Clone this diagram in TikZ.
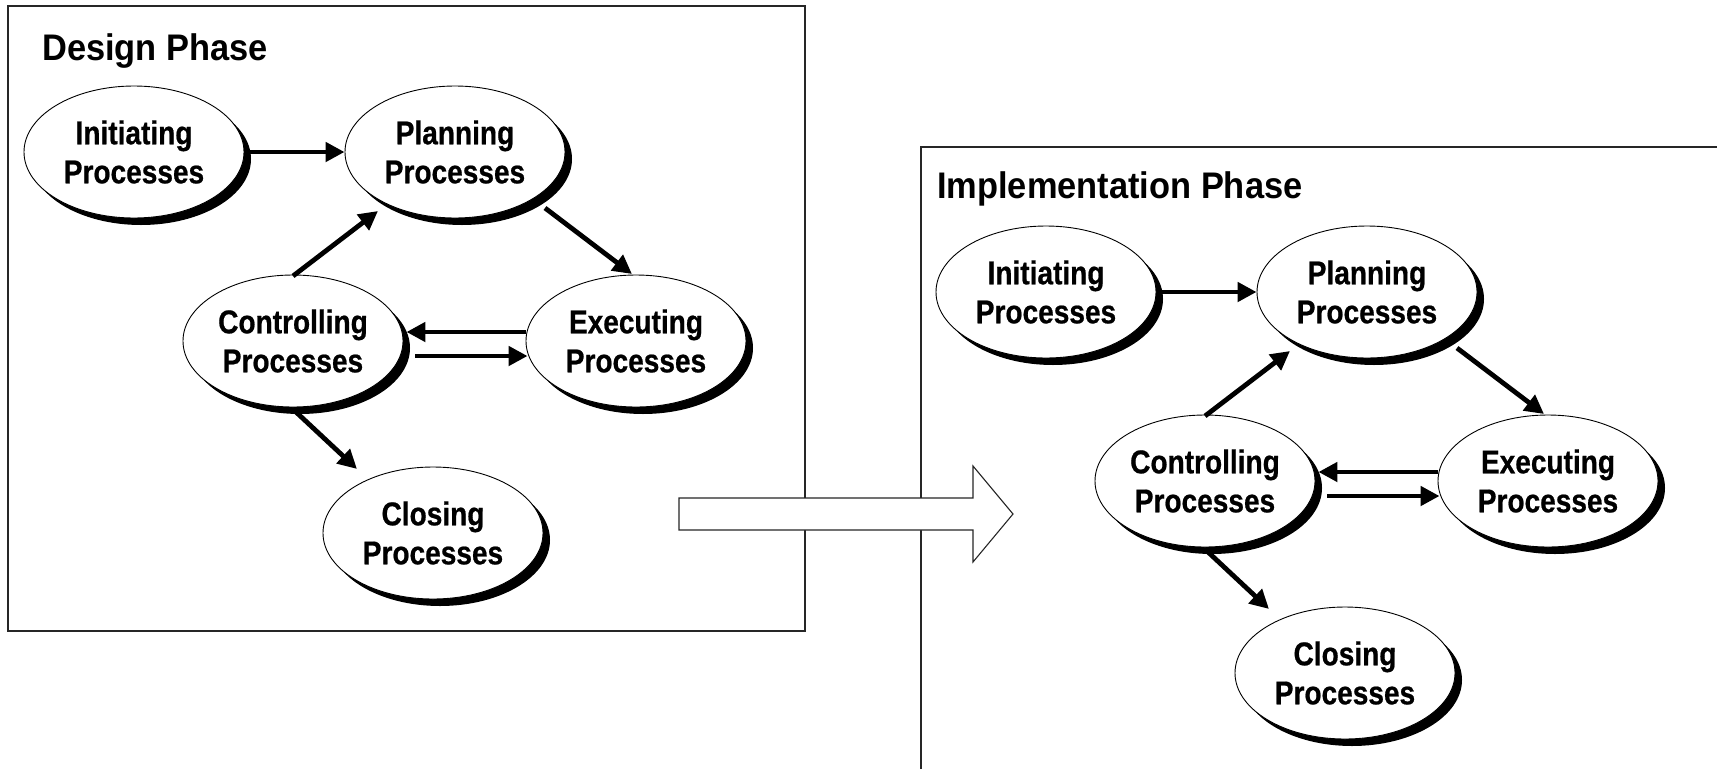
\documentclass[tikz,border=0pt]{standalone}
\usepackage{fontspec}
\setmainfont{Liberation Sans}
\newfontfamily\ellfont{Liberation Sans}[FakeStretch=0.85,FakeBold=0.6]
\newfontfamily\titfont{Liberation Sans}[FakeStretch=0.93]
\usetikzlibrary{shapes.geometric,calc,arrows.meta}
\tikzset{
  proc/.style={ellipse, draw=black, line width=0.9pt, fill=white,
    minimum width=220pt, minimum height=132pt, inner sep=0pt,
    align=center, font=\ellfont\bfseries\fontsize{33}{39}\selectfont},
  procshadow/.style={ellipse, fill=black, minimum width=220pt,
    minimum height=132pt, inner sep=0pt},
  arr/.style={line width=4.8pt, -{Triangle[length=19pt,width=19pt]}},
  phase/.style={anchor=base west, inner sep=0pt, font=\titfont\bfseries\fontsize{37}{44}\selectfont},
  frame/.style={draw=black!85, line width=1.3pt},
  bigarrow/.style={draw=black!85, line width=1.1pt, fill=white}
}
\begin{document}
\begin{tikzpicture}[x=1pt,y=-1pt]
\useasboundingbox (0,0) rectangle (1717,769);
\fill[white] (0,0) rectangle (1717,769);
% frames
\draw[frame] (8,6) rectangle (805,631);
\draw[frame] (921,769) -- (921,147) -- (1717,147);
% big arrow
\draw[bigarrow] (679,498) -- (973,498) -- (973,466) -- (1013,514) -- (973,562) -- (973,530) -- (679,530) -- cycle;
% titles
\node[phase] (t1) at (42,60) {Design Phase};
\node[phase] (t2) at (937,198) {Implementation Phase};
% shadows of the process ellipses, two groups
\foreach \g/\dx/\dy in {L/0/0, R/912/140}{
  \foreach \n/\x/\y in {i/134/152, p/455/152, c/293/341, e/636/341, s/433/533}{
    \node[procshadow] at (\x+\dx+7,\y+\dy+7) {};
  }
}
\foreach \g/\dx/\dy in {L/0/0, R/912/140}{
  \node[proc] (i\g) at (134+\dx,152+\dy) {Initiating\\Processes};
  \node[proc] (p\g) at (455+\dx,152+\dy) {Planning\\Processes};
  \node[proc] (c\g) at (293+\dx,341+\dy) {Controlling\\Processes};
  \node[proc] (e\g) at (636+\dx,341+\dy) {Executing\\Processes};
  \node[proc] (s\g) at (433+\dx,533+\dy) {Closing\\Processes};
  \draw[arr] ($(i\g.east)+(6,0)$) -- (p\g.west);
  \draw[arr] ($(p\g)+(90,56)$) -- ($(e\g)+(-4,-67)$);
  \draw[arr] ($(c\g)+(0,-65)$) -- ($(p\g)+(-77,59)$);
  \draw[arr] ($(e\g.west)+(0,-9)$) -- ($(c\g.east)+(3,-9)$);
  \draw[arr] ($(c\g.east)+(12,15)$) -- ($(e\g.west)+(2,15)$);
  \draw[arr] ($(c\g)+(3,71)$) -- ($(s\g)+(-76,-64)$);
}
\end{tikzpicture}
\end{document}
